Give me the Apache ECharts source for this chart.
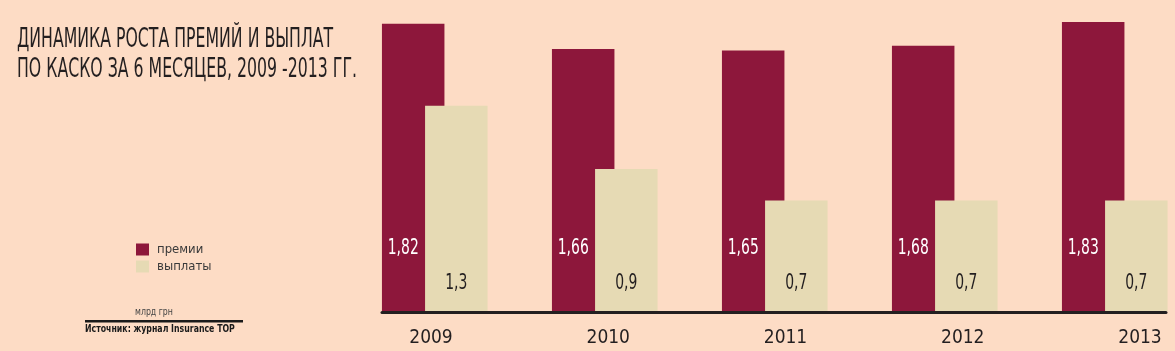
<!DOCTYPE html>
<html>
<head>
<meta charset="utf-8">
<title>КАСКО 2009-2013</title>
<script src="https://cdn.jsdelivr.net/npm/echarts@6/dist/echarts.min.js"></script>
<style>
  html, body { margin: 0; padding: 0; background: #fddcc5; }
  #chart { width: 1175px; height: 351px; }
</style>
</head>
<body>
<div id="chart"></div>
<script>
// данные (млрд грн)
const years = ['2009', '2010', '2011', '2012', '2013'];
const premiums = [1.82, 1.66, 1.65, 1.68, 1.83];
const payouts = [1.3, 0.9, 0.7, 0.7, 0.7];

const NARROW = "'Liberation Sans Narrow', 'DejaVu Sans Condensed', sans-serif";
const fmt = (v) => String(v).replace('.', ',');

// подписи значений: узкий шрифт (сжатый по ширине), стоят на фиксированной высоте от оси
function valueLabel (dx, dy, color) {
  return function (params, api) {
    const p = api.coord([api.value(0), 0]);
    return {
      type: 'text',
      x: p[0] + dx,
      y: p[1] - dy,
      scaleX: 0.755,
      style: {
        text: fmt(api.value(1)),
        font: '20.5px ' + NARROW,
        fill: color,
        align: 'center',
        verticalAlign: 'middle'
      }
    };
  };
}

const chart = echarts.init(document.getElementById('chart'));

chart.setOption({
  backgroundColor: '#fddcc5',
  animation: false,
  legend: {
    orient: 'vertical',
    left: 136,
    top: 243,
    padding: 0,
    itemWidth: 13,
    itemHeight: 12,
    itemGap: 4,
    icon: 'rect',
    data: ['премии', 'выплаты'],
    textStyle: { fontFamily: NARROW, fontSize: 13, color: '#3a3a3a', padding: [0, 0, 0, 3], lineHeight: 12 }
  },
  grid: [
    // бары (центры категорий)
    { left: 434.75, width: 680, top: 11, bottom: 40 },
    // подписи лет
    { left: 431, width: 709, top: 11, bottom: 40 },
    // линия оси под барами
    { left: 382, width: 784, top: 11, bottom: 38.5 }
  ],
  xAxis: [
    {
      type: 'category', gridIndex: 0, data: years, boundaryGap: false,
      axisLine: { show: false }, axisTick: { show: false }, axisLabel: { show: false }, splitLine: { show: false }
    },
    {
      type: 'category', gridIndex: 1, data: years, boundaryGap: false,
      axisLine: { show: false }, axisTick: { show: false }, splitLine: { show: false },
      axisLabel: { margin: 18, fontFamily: NARROW, fontSize: 19, color: '#231f20' }
    },
    {
      type: 'category', gridIndex: 2, data: years,
      axisLine: { show: true, lineStyle: { color: '#231f20', width: 3 } },
      axisTick: { show: false }, axisLabel: { show: false }, splitLine: { show: false }
    }
  ],
  yAxis: [
    { type: 'value', gridIndex: 0, min: 0, max: 1.9, show: false },
    { type: 'value', gridIndex: 1, show: false },
    { type: 'value', gridIndex: 2, show: false }
  ],
  series: [
    {
      name: 'премии',
      type: 'bar',
      barWidth: 62.5,
      barGap: '-31%',
      itemStyle: { color: '#8d173b' },
      data: premiums
    },
    {
      name: 'выплаты',
      type: 'bar',
      barWidth: 62.5,
      itemStyle: { color: '#e6dab4' },
      data: payouts
    },
    {
      type: 'custom',
      z: 5,
      renderItem: valueLabel(-31.5, 62, '#ffffff'),
      data: premiums.map((v, i) => [i, v])
    },
    {
      type: 'custom',
      z: 5,
      renderItem: valueLabel(21.5, 27, '#231f20'),
      data: payouts.map((v, i) => [i, v])
    }
  ],
  graphic: [
    {
      type: 'text',
      x: 17,
      y: 25,
      scaleX: 0.673,
      style: {
        text: 'ДИНАМИКА РОСТА ПРЕМИЙ И ВЫПЛАТ\nПО КАСКО ЗА 6 МЕСЯЦЕВ, 2009 -2013 ГГ.',
        font: '26px ' + NARROW,
        lineHeight: 30,
        fill: '#231f20',
        verticalAlign: 'top'
      }
    },
    {
      type: 'text',
      x: 135,
      y: 307,
      scaleX: 0.79,
      style: { text: 'млрд грн', font: '11px ' + NARROW, fill: '#444444', verticalAlign: 'top' }
    },
    {
      type: 'rect',
      shape: { x: 85, y: 320, width: 158, height: 2.5 },
      style: { fill: '#1a1a1a' }
    },
    {
      type: 'text',
      x: 85,
      y: 324,
      scaleX: 0.79,
      style: { text: 'Источник: журнал Insurance TOP', font: 'bold 11px ' + NARROW, fill: '#1a1a1a', verticalAlign: 'top' }
    }
  ]
});
</script>
</body>
</html>
